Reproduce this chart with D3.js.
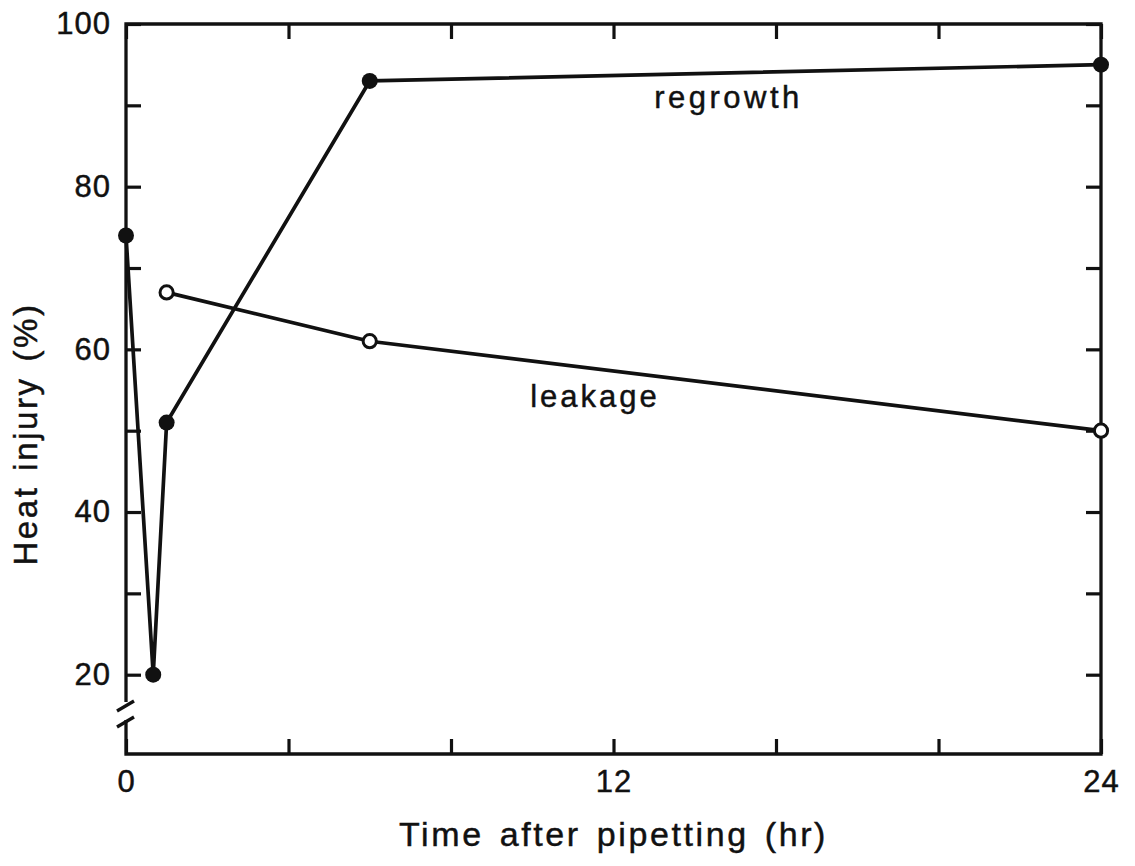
<!DOCTYPE html>
<html>
<head>
<meta charset="utf-8">
<script src="https://cdn.jsdelivr.net/npm/d3@7/dist/d3.min.js"></script>
<style>
  html, body { margin: 0; padding: 0; background: #fff; }
  svg { display: block; }
  text { font-family: "Liberation Sans", Arial, Helvetica, sans-serif; fill: #111; stroke: #111; stroke-width: 0.45px; }
</style>
</head>
<body>
<svg id="chart" width="1135" height="866"></svg>
<script>
// Heat injury after pipetting, measured by regrowth and by electrolyte leakage
const regrowthHours  = [0, 0.67, 1, 6, 24];
const regrowthValues = [74, 20, 51, 93, 95];
const leakageHours   = [1, 6, 24];
const leakageValues  = [67, 61, 50];

const xTickValues  = [0, 4, 8, 12, 16, 20, 24];
const xTickLabels  = [0, 12, 24];
const yTickValues  = [20, 30, 40, 50, 60, 70, 80, 90, 100];
const yTickLabels  = [20, 40, 60, 80, 100];

const seriesNames = ["regrowth", "leakage"];
const xTitle = "Time after pipetting (hr)";
const yTitle = "Heat injury (%)";

(function draw() {
  const svg = d3.select("#chart");
  const mLeft = 126, mRight = 1101, mTop = 24, mBottom = 754;
  const ink = "#111";

  const x = d3.scaleLinear().domain([0, 24]).range([mLeft, mRight]);
  const y = d3.scaleLinear().domain([10.25, 100]).range([mBottom, mTop]);

  const tickFont = "31px";
  const tickLen = 15;

  // inward ticks on all four sides
  function styleAxis(g) {
    g.select(".domain").remove();
    g.selectAll(".tick line").attr("stroke", ink).attr("stroke-width", 3.2);
    g.selectAll("text").style("font-size", tickFont).style("letter-spacing", "1px").attr("fill", ink);
  }

  svg.append("g").attr("transform", `translate(0,${mBottom})`)
    .call(d3.axisBottom(x).tickValues(xTickValues).tickSize(-tickLen).tickFormat(""))
    .call(styleAxis);
  svg.append("g").attr("transform", `translate(0,${mBottom})`)
    .call(d3.axisBottom(x).tickValues(xTickLabels).tickSize(0).tickPadding(16).tickFormat(d3.format("d")))
    .call(styleAxis);
  svg.append("g").attr("transform", `translate(0,${mTop})`)
    .call(d3.axisTop(x).tickValues(xTickValues).tickSize(-tickLen).tickFormat(""))
    .call(styleAxis);
  svg.append("g").attr("transform", `translate(${mLeft},0)`)
    .call(d3.axisLeft(y).tickValues(yTickValues).tickSize(-tickLen).tickFormat(""))
    .call(styleAxis);
  svg.append("g").attr("transform", `translate(${mLeft},0)`)
    .call(d3.axisLeft(y).tickValues(yTickLabels).tickSize(0).tickPadding(15).tickFormat(d3.format("d")))
    .call(styleAxis);
  svg.append("g").attr("transform", `translate(${mRight},0)`)
    .call(d3.axisRight(y).tickValues(yTickValues).tickSize(-tickLen).tickFormat(""))
    .call(styleAxis);

  // frame, with a break in the left axis below 20
  const breakTop = 702, breakBot = 720;
  const frame = svg.append("g").attr("fill", "none").attr("stroke", ink).attr("stroke-width", 3.3);
  frame.append("path").attr("d", `M${mLeft},${breakTop} V${mTop} H${mRight} V${mBottom} H${mLeft} V${breakBot}`)
    .attr("stroke-linejoin", "miter");
  frame.append("line").attr("x1", mLeft - 9).attr("y1", breakTop + 9).attr("x2", mLeft + 8).attr("y2", breakTop - 1);
  frame.append("line").attr("x1", mLeft - 9).attr("y1", breakBot + 7).attr("x2", mLeft + 8).attr("y2", breakBot - 3);

  // series
  const line = d3.line().x(d => x(d[0])).y(d => y(d[1]));
  const regrowth = d3.zip(regrowthHours, regrowthValues);
  const leakage = d3.zip(leakageHours, leakageValues);

  svg.append("path").datum(leakage).attr("d", line)
    .attr("fill", "none").attr("stroke", ink).attr("stroke-width", 3.7).attr("stroke-linejoin", "round");
  svg.append("path").datum(regrowth).attr("d", line)
    .attr("fill", "none").attr("stroke", ink).attr("stroke-width", 3.7).attr("stroke-linejoin", "round");

  svg.append("g").selectAll("circle").data(leakage).join("circle")
    .attr("cx", d => x(d[0])).attr("cy", d => y(d[1])).attr("r", 6.6)
    .attr("fill", "#fff").attr("stroke", ink).attr("stroke-width", 3);
  svg.append("g").selectAll("circle").data(regrowth).join("circle")
    .attr("cx", d => x(d[0])).attr("cy", d => y(d[1])).attr("r", 8)
    .attr("fill", ink);

  // series labels
  svg.append("text").attr("x", x(13)).attr("y", y(89.7))
    .style("font-size", "31px").style("letter-spacing", "3.5px").text(seriesNames[0]);
  svg.append("text").attr("x", x(9.95)).attr("y", y(52.9))
    .style("font-size", "31px").style("letter-spacing", "3px").text(seriesNames[1]);

  // axis titles
  svg.append("text").attr("x", (mLeft + mRight) / 2).attr("y", 846).attr("text-anchor", "middle")
    .style("font-size", "34px").style("letter-spacing", "2.6px").style("word-spacing", "4px").text(xTitle);
  svg.append("text").attr("transform", "translate(37,434) rotate(-90)").attr("text-anchor", "middle")
    .style("font-size", "33px").style("letter-spacing", "2.6px").style("word-spacing", "3px").text(yTitle);
})();
</script>
</body>
</html>
